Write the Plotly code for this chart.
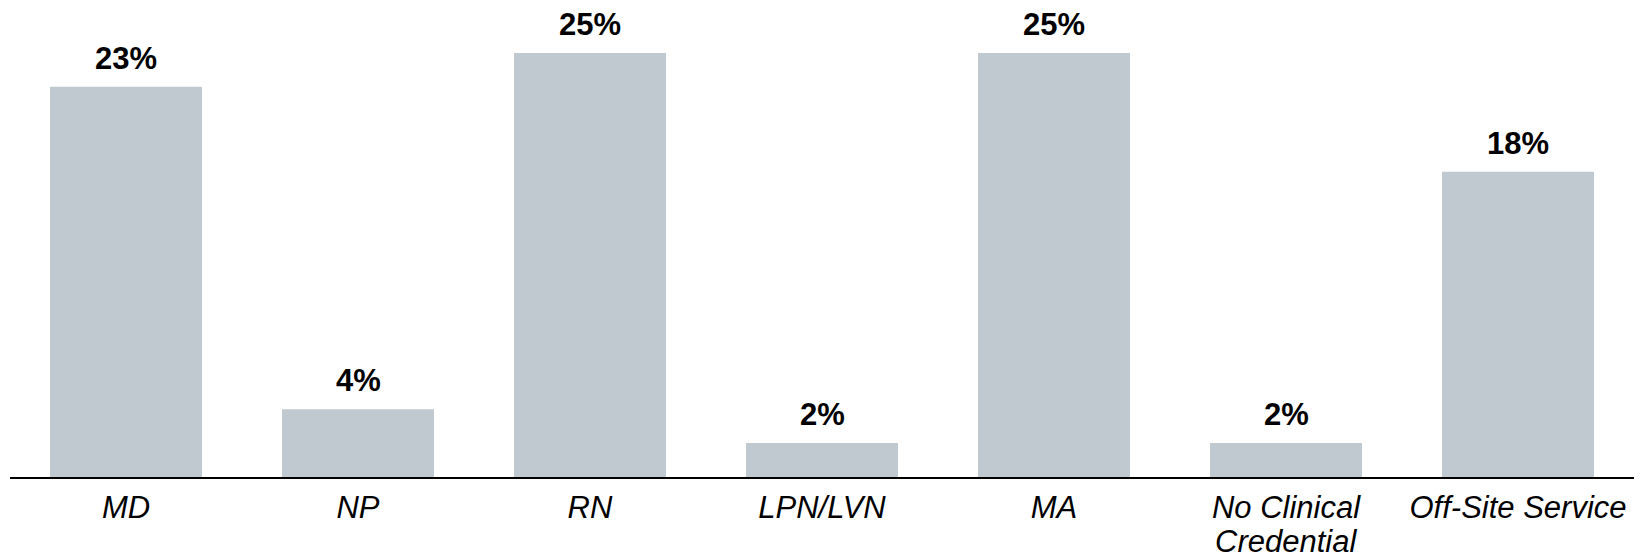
import plotly.graph_objects as go

# Share of respondents by staff credential
categories = ["MD", "NP", "RN", "LPN/LVN", "MA", "No Clinical<br>Credential", "Off-Site Service"]
values = [23, 4, 25, 2, 25, 2, 18]
value_labels = ["23%", "4%", "25%", "2%", "25%", "2%", "18%"]

BAR_COLOR = "#BFC9CF"
FONT = "Liberation Sans, Arial, sans-serif"
FONT_SIZE = 31

# Tick labels show the first line; continuation lines are added as annotations
# so the line spacing stays tight.
first_lines = [c.split("<br>")[0] for c in categories]
extra_lines = [c.split("<br>")[1:] for c in categories]

fig = go.Figure(
    go.Bar(
        x=list(range(len(categories))),
        y=values,
        marker=dict(color=BAR_COLOR, line=dict(width=0)),
        hoverinfo="skip",
    )
)

annotations = []
for i, (v, lab) in enumerate(zip(values, value_labels)):
    annotations.append(
        dict(
            x=i, y=v, xref="x", yref="y",
            text=f"<b>{lab}</b>",
            showarrow=False,
            yanchor="bottom",
            yshift=9,
            font=dict(family=FONT, size=FONT_SIZE, color="#000000"),
        )
    )

for i, lines in enumerate(extra_lines):
    for k, line in enumerate(lines):
        annotations.append(
            dict(
                x=i, y=0, xref="x", yref="y",
                text=f"<i>{line}</i>",
                showarrow=False,
                yanchor="top",
                yshift=-45 - 36 * k,
                font=dict(family=FONT, size=FONT_SIZE, color="#000000"),
            )
        )

fig.update_layout(
    width=1644,
    height=558,
    margin=dict(l=10, r=10, t=0, b=81),
    paper_bgcolor="white",
    plot_bgcolor="white",
    bargap=0.345,
    showlegend=False,
    annotations=annotations,
    font=dict(family=FONT, size=FONT_SIZE, color="#000000"),
)

fig.update_xaxes(
    tickmode="array",
    tickvals=list(range(len(categories))),
    ticktext=[f"<i>{t}</i>" for t in first_lines],
    range=[-0.5, len(categories) - 0.5],
    showline=True,
    linecolor="#000000",
    linewidth=2,
    ticks="",
    ticklabelstandoff=2,
    showgrid=False,
    zeroline=False,
    tickfont=dict(family=FONT, size=FONT_SIZE, color="#000000"),
)

fig.update_yaxes(
    range=[0, 28.12],
    visible=False,
    showgrid=False,
    zeroline=False,
)

fig.write_html("out.html")
